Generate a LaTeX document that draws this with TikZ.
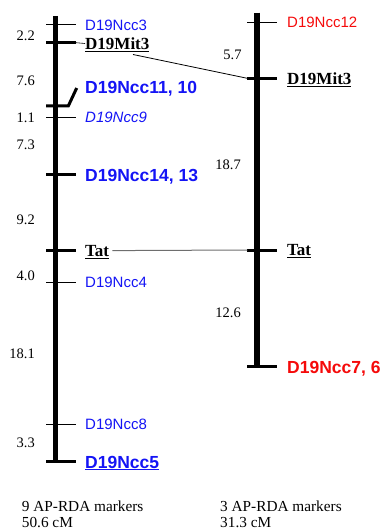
\documentclass[tikz,border=0pt]{standalone}
\usepackage{fontspec}
\setmainfont{Liberation Serif}
\setsansfont{Liberation Sans}
\definecolor{mblue}{RGB}{20,20,245}
\definecolor{mred}{RGB}{245,10,10}
\definecolor{lgray}{RGB}{110,110,110}
\begin{document}
\begin{tikzpicture}[x=1pt,y=-1pt,
  bar/.style={line width=5.5pt},
  thinT/.style={line width=1pt},
  thickT/.style={line width=3pt},
  lab/.style={anchor=west,inner sep=0pt,text depth=0pt},
  sansR/.style={lab,font=\fontsize{15}{15}\selectfont\sffamily},
  sansB/.style={lab,font=\fontsize{17.5}{17.5}\selectfont\sffamily\bfseries},
  serB/.style={lab,font=\fontsize{17}{17}\selectfont\bfseries},
  num/.style={anchor=east,inner sep=0pt,text depth=0pt,font=\fontsize{14.5}{14.5}\selectfont},
  foot/.style={anchor=west,inner sep=0pt,font=\fontsize{15.3}{15.3}\selectfont}]
\useasboundingbox (0,0) rectangle (381,532);

% ---- left chromosome ----
\coordinate (LT) at (55.5,16);
\coordinate (LB) at (55.5,461);
\draw[bar] (LT) -- (LB);

\draw[thinT] (46,24.3) -- (76,24.3);
\node[sansR,text=mblue] (ncc3) at (85,24.8) {D19Ncc3};

\draw[thickT] (46,42.7) -- (76,42.7) coordinate (mitLtick);
\node[serB] (mitL) at (85,43.5) {\underline{D19Mit3}};
\draw[line width=0.6pt] (mitLtick) -- (mitL.west);

\coordinate (n11a) at (68.3,106);
\coordinate (n11b) at (76.7,88);
\draw[thickT] (46,106) -- (n11a) -- (n11b);
\node[sansB,text=mblue] (ncc11) at (85,87.5) {D19Ncc11, 10};

\draw[thinT] (46,117.7) -- (76,117.7);
\node[sansR,text=mblue] (ncc9) at (85,117) {\itshape D19Ncc9};

\draw[thickT] (46,174.3) -- (76,174.3);
\node[sansB,text=mblue] (ncc14) at (85,175) {D19Ncc14, 13};

\draw[thickT] (46,250.6) -- (76,250.6);
\node[serB] (tatL) at (85,250.6) {\underline{Tat}};

\draw[thinT] (46,282.3) -- (76,282.3);
\node[sansR,text=mblue] (ncc4) at (85,282.3) {D19Ncc4};

\draw[thinT] (46,424.3) -- (76,424.3);
\node[sansR,text=mblue] (ncc8) at (85,424.3) {D19Ncc8};

\draw[thickT] (46,461.7) -- (76,461.7);
\node[sansB,text=mblue] (ncc5) at (85,462) {\underline{D19Ncc5}};

\node[num] (dL1) at (35,36) {2.2};
\node[num] (dL2) at (35,80.5) {7.6};
\node[num] (dL3) at (35,117.5) {1.1};
\node[num] (dL4) at (35,145) {7.3};
\node[num] (dL5) at (35,220) {9.2};
\node[num] (dL6) at (35,276) {4.0};
\node[num] (dL7) at (35,354) {18.1};
\node[num] (dL8) at (35,443) {3.3};

% ---- right chromosome ----
\coordinate (RT) at (256.8,12.7);
\coordinate (RB) at (256.8,366);
\draw[bar] (RT) -- (RB);

\draw[thinT] (247.3,22.7) -- (277.3,22.7);
\node[sansR,text=mred] (ncc12) at (287,22.7) {D19Ncc12};

\draw[thickT] (247.3,78.3) coordinate (mitRtick) -- (277.3,78.3);
\node[serB] (mitR) at (287,78.5) {\underline{D19Mit3}};

\draw[thickT] (247.3,250) coordinate (tatRtick) -- (277.3,250);
\node[serB] (tatR) at (287,250) {\underline{Tat}};

\draw[thickT] (247.3,366.7) -- (277.3,366.7);
\node[sansB,text=mred] (ncc7) at (287,367) {D19Ncc7, 6};

\node[num] (dR1) at (241.7,54.5) {5.7};
\node[num] (dR2) at (241,165) {18.7};
\node[num] (dR3) at (241,313) {12.6};

% ---- homology connectors ----
\coordinate (mitLconn) at (133,54.5);
\draw[line width=0.8pt] (mitLconn) -- (mitRtick);
\draw[line width=1pt,lgray] (tatL.east) ++(3,0) -- (tatRtick);

% ---- footers ----
\node[foot] (fL1) at (21.7,506) {9 AP-RDA markers};
\node[foot] (fL2) at (21.7,523) {50.6 cM};
\node[foot] (fR1) at (220,506) {3 AP-RDA markers};
\node[foot] (fR2) at (220,523) {31.3 cM};
\end{tikzpicture}
\end{document}
